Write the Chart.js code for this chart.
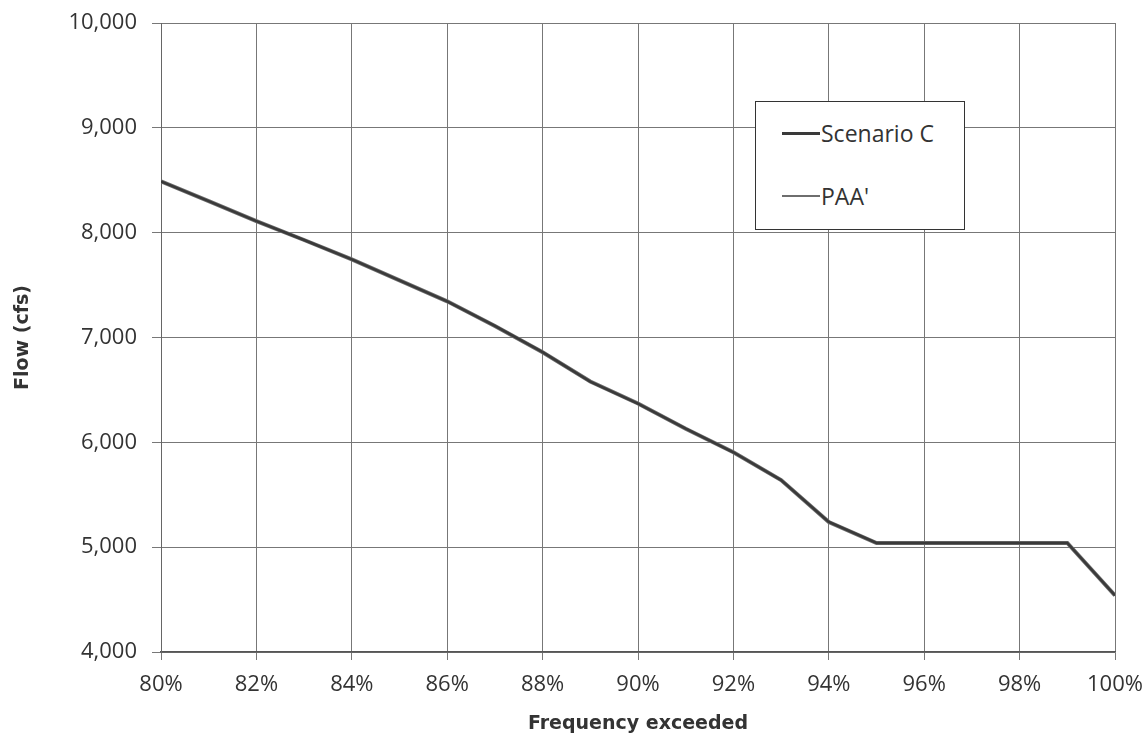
<!DOCTYPE html>
<html><head><meta charset="utf-8">
<script src="https://cdn.jsdelivr.net/npm/chart.js@4.4.1/dist/chart.umd.min.js"></script>
<style>
body{margin:0;background:#fff;}
#wrap{position:relative;width:1144px;height:738px;}
#legend{position:absolute;left:755px;top:101px;width:208px;height:127px;border:1.5px solid #333;background:#fff;font-family:"Open Sans",sans-serif;font-size:23px;color:#333;}
.item{position:absolute;left:26px;display:flex;align-items:center;line-height:28px;}
.sw{display:inline-block;width:38px;height:0;border-top-style:solid;margin-right:1px;}
</style></head>
<body><div id="wrap"><canvas id="c" width="1144" height="738"></canvas><div id="legend"></div></div>
<script>
const frequency = [80,81,82,83,84,85,86,87,88,89,90,91,92,93,94,95,96,97,98,99,100];
const scenarioC = [8490,8300,8110,7930,7745,7545,7345,7110,6860,6580,6370,6130,5905,5640,5240,5040,5040,5040,5040,5040,4540];
const paa =       [8490,8300,8110,7930,7745,7545,7345,7110,6860,6580,6370,6130,5905,5640,5240,5040,5040,5040,5040,5040,4540];
const seriesNames = ["Scenario C","PAA'"];
const xTicks = [80,82,84,86,88,90,92,94,96,98,100];
const yTicks = [4000,5000,6000,7000,8000,9000,10000];

const toPts = vals => vals.map((v,i)=>({x:frequency[i],y:v}));
const tickFont = "'Open Sans', sans-serif";
const titleFont = "'DejaVu Sans', sans-serif";
const chart = new Chart(document.getElementById('c'),{
  type:'line',
  data:{datasets:[
    {label:seriesNames[0],data:toPts(scenarioC),borderColor:'#3a3a3a',borderWidth:2.5,pointRadius:0,tension:0,order:1},
    {label:seriesNames[1],data:toPts(paa),borderColor:'#6e6e6e',borderWidth:4,pointRadius:0,tension:0,order:2}
  ]},
  options:{
    responsive:false,animation:false,
    layout:{padding:{left:0,right:29,top:23,bottom:0}},
    plugins:{legend:{display:false},tooltip:{enabled:false}},
    scales:{
      x:{type:'linear',min:80,max:100,
        afterBuildTicks:s=>{s.ticks=xTicks.map(v=>({value:v}));},
        afterFit:s=>{s.height=86;s.paddingLeft=0;s.paddingRight=0;},
        ticks:{callback:v=>v+'%',color:'#333',font:{family:tickFont,size:22},padding:12,maxRotation:0},
        grid:{color:'#777',lineWidth:1,tickLength:8},
        border:{color:'#555',width:1.5},
        title:{display:true,text:'Frequency exceeded',color:'#333',font:{family:titleFont,size:19,weight:'bold'},padding:{top:0,bottom:3}}
      },
      y:{min:4000,max:10000,
        afterBuildTicks:s=>{s.ticks=yTicks.map(v=>({value:v}));},
        afterFit:s=>{s.width=161;s.paddingTop=0;s.paddingBottom=0;},
        ticks:{callback:v=>v.toLocaleString('en-US'),color:'#333',font:{family:tickFont,size:22},padding:15},
        grid:{color:'#777',lineWidth:1,tickLength:9},
        border:{color:'#666',width:1},
        title:{display:true,text:'Flow (cfs)',color:'#333',font:{family:titleFont,size:19,weight:'bold'},padding:{top:12,bottom:0}}
      }
    }
  }
});
const lg=document.getElementById('legend');
const tops=[17,80];
chart.data.datasets.forEach((d,i)=>{
  const it=document.createElement('div');it.className='item';it.style.top=tops[i]+'px';
  const sw=document.createElement('span');sw.className='sw';sw.style.borderTopColor=d.borderColor;sw.style.borderTopWidth=(i==0?3:2)+'px';
  const t=document.createElement('span');t.textContent=d.label;
  it.appendChild(sw);it.appendChild(t);lg.appendChild(it);
});
</script></body></html>
